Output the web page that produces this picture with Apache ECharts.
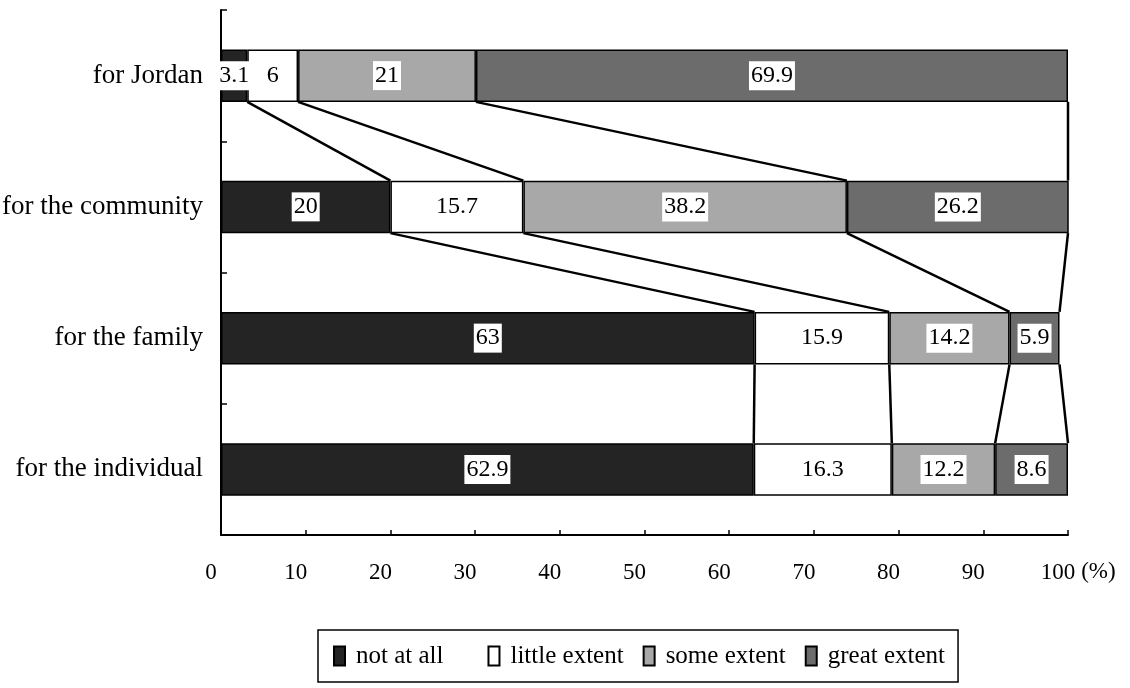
<!DOCTYPE html>
<html>
<head>
<meta charset="utf-8">
<script src="https://cdn.jsdelivr.net/npm/echarts@6/dist/echarts.min.js"></script>
<style>html,body{margin:0;padding:0;background:#fff}#c{width:1130px;height:688px}</style>
</head>
<body>
<div id="c"></div>
<script>
// ---- data ----
var categories = ['for Jordan', 'for the community', 'for the family', 'for the individual'];
var seriesNames = ['not at all', 'little extent', 'some extent', 'great extent'];
var notAtAll = [3.1, 20, 63, 62.9];
var littleExtent = [6, 15.7, 15.9, 16.3];
var someExtent = [21, 38.2, 14.2, 12.2];
var greatExtent = [69.9, 26.2, 5.9, 8.6];
var xMin = 0, xMax = 100, xInterval = 10;

var values = [notAtAll, littleExtent, someExtent, greatExtent];
var colors = ['#242424', '#ffffff', '#a8a8a8', '#6c6c6c'];
var FONT = '"Liberation Serif", "DejaVu Serif", serif';

// connector data: for each gap between category i and i+1, each cumulative boundary
var connectors = [];
for (var i = 0; i < categories.length - 1; i++) {
  var c1 = 0, c2 = 0;
  for (var k = 0; k < values.length; k++) {
    c1 += values[k][i];
    c2 += values[k][i + 1];
    connectors.push([Math.min(c1, xMax), Math.min(c2, xMax), i]);
  }
}

var chart = echarts.init(document.getElementById('c'));
var series = values.map(function (arr, k) {
  return {
    name: seriesNames[k],
    type: 'bar',
    stack: 'total',
    barWidth: '40%',
    data: arr,
    itemStyle: { color: colors[k], borderColor: '#000', borderWidth: 1.5 },
    label: {
      show: true,
      position: 'inside',
      color: '#000',
      fontFamily: FONT,
      fontSize: 24,
      lineHeight: 26,
      backgroundColor: '#fff',
      padding: [2, 2, 1, 2],
      formatter: function (p) { return String(p.value); }
    },
    emphasis: { disabled: true }
  };
});
series.push({
  type: 'custom',
  silent: true,
  z: 3,
  data: connectors,
  encode: { x: [0, 1], y: 2 },
  renderItem: function (params, api) {
    var idx = api.value(2);
    var p1 = api.coord([api.value(0), idx]);
    var p2 = api.coord([api.value(1), idx + 1]);
    var half = api.size([0, 1])[1] * 0.2;
    return {
      type: 'line',
      shape: { x1: p1[0], y1: p1[1] + half, x2: p2[0], y2: p2[1] - half },
      style: { stroke: '#000', lineWidth: 2.5 }
    };
  }
});

chart.setOption({
  animation: false,
  backgroundColor: '#fff',
  grid: { left: 221, right: 62, top: 10, bottom: 153, containLabel: false, outerBoundsMode: 'none' },
  xAxis: {
    type: 'value',
    min: xMin, max: xMax, interval: xInterval,
    name: '(%)',
    nameLocation: 'end',
    nameGap: 12,
    nameTextStyle: { fontFamily: FONT, fontSize: 23, color: '#000', align: 'left', verticalAlign: 'top', padding: [25, 0, 0, 0] },
    axisLine: { show: true, lineStyle: { color: '#000', width: 2 } },
    axisTick: { show: true, inside: true, length: 5, lineStyle: { color: '#000', width: 1.5 } },
    axisLabel: { fontFamily: FONT, fontSize: 23, color: '#000', margin: 26, padding: [0, 20, 0, 0] },
    splitLine: { show: false }
  },
  yAxis: {
    type: 'category',
    inverse: true,
    data: categories,
    axisLine: { show: true, lineStyle: { color: '#000', width: 2 } },
    axisTick: { show: true, inside: true, length: 6, lineStyle: { color: '#000', width: 1.5 } },
    axisLabel: { fontFamily: FONT, fontSize: 27, color: '#000', margin: 18 },
    splitLine: { show: false }
  },
  legend: {
    data: seriesNames,
    left: 318,
    top: 630,
    orient: 'horizontal',
    itemGap: 19,
    itemWidth: 11,
    itemHeight: 19,
    icon: 'rect',
    padding: [13, 13, 13, 15],
    borderColor: '#000',
    borderWidth: 1.5,
    borderRadius: 0,
    selectedMode: false,
    formatter: function (n) { return n === 'not at all' ? n + '    ' : n; },
    textStyle: { fontFamily: FONT, fontSize: 25, color: '#000', lineHeight: 26, padding: [0, 0, 0, 6] }
  },
  series: series
});
</script>
</body>
</html>
